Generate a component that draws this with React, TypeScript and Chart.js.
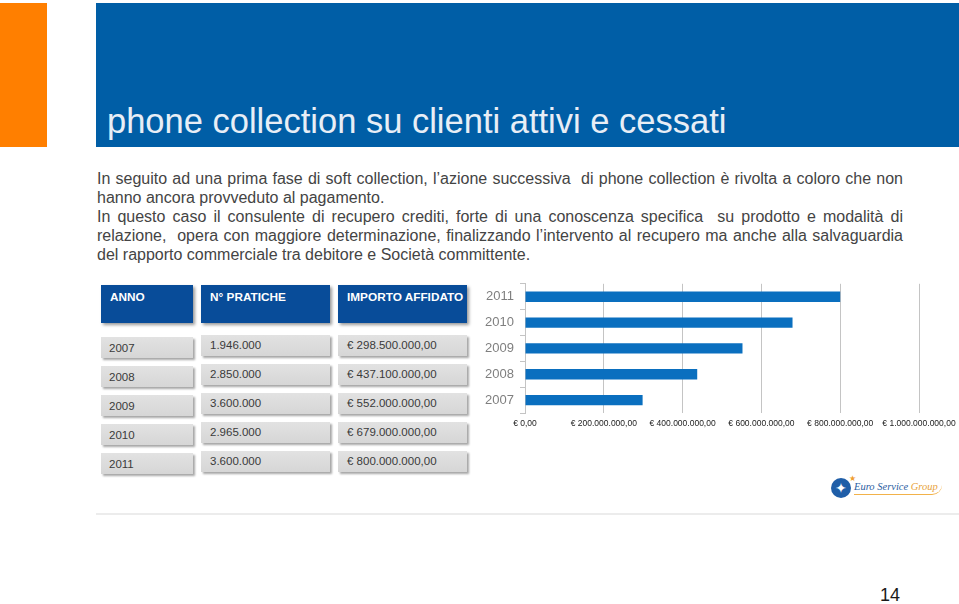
import React, { useEffect, useRef } from 'react';
import { Chart, registerables } from 'chart.js';

Chart.register(...registerables);

const years: string[] = ['2007', '2008', '2009', '2010', '2011'];
const pratiche: string[] = ['1.946.000', '2.850.000', '3.600.000', '2.965.000', '3.600.000'];
const importi: number[] = [298500000, 437100000, 552000000, 679000000, 800000000];
const headers: string[] = ['ANNO', 'N° PRATICHE', 'IMPORTO AFFIDATO'];
const xMin = 0;
const xMax = 1000000000;
const xStep = 200000000;

const title = 'phone collection su clienti attivi e cessati';
const bodyLines: string[] = [
  'In seguito ad una prima fase di soft collection, l’azione successiva  di phone collection è rivolta a coloro che non',
  'hanno ancora provveduto al pagamento.',
  'In questo caso il consulente di recupero crediti, forte di una conoscenza specifica  su prodotto e modalità di',
  'relazione,  opera con maggiore determinazione, finalizzando l’intervento al recupero ma anche alla salvaguardia',
  'del rapporto commerciale tra debitore e Società committente.',
];
const justified: boolean[] = [true, false, true, true, false];

function fmtEuro(v: number): string {
  const intPart = Math.round(v).toString().replace(/\B(?=(\d{3})+(?!\d))/g, '.');
  return '€ ' + intPart + ',00';
}

const FONT = '"Liberation Sans", Arial, sans-serif';

function BarChart() {
  const ref = useRef<HTMLCanvasElement | null>(null);
  useEffect(() => {
    if (!ref.current) return;
    const chart = new Chart(ref.current, {
      type: 'bar',
      data: {
        labels: years,
        datasets: [
          {
            data: importi,
            backgroundColor: '#0a6fbf',
            borderWidth: 0,
            barPercentage: 0.4,
            categoryPercentage: 1,
          },
        ],
      },
      options: {
        indexAxis: 'y',
        animation: false,
        responsive: false,
        devicePixelRatio: 1,
        layout: { padding: { top: 5, right: 40, left: 0, bottom: 0 } },
        plugins: { legend: { display: false }, tooltip: { enabled: false } },
        scales: {
          x: {
            min: xMin,
            max: xMax,
            afterFit: (s: any) => {
              s.height = 20;
              s.paddingRight = 0;
              s.paddingLeft = 0;
            },
            ticks: {
              stepSize: xStep,
              autoSkip: false,
              maxRotation: 0,
              color: '#222222',
              padding: 6,
              font: { family: FONT, size: 8.5 },
              callback: (v: any) => fmtEuro(Number(v)),
            },
            grid: { color: '#c4c4c4', drawTicks: false, lineWidth: 1 },
            border: { display: false },
          },
          y: {
            reverse: true,
            afterFit: (s: any) => {
              s.width = 55;
            },
            ticks: {
              color: '#7f7f7f',
              padding: 6,
              font: { family: FONT, size: 13 },
            },
            grid: {
              drawOnChartArea: false,
              drawTicks: true,
              tickLength: 5,
              color: '#c4c4c4',
              offset: true,
            },
            border: { display: true, color: '#c4c4c4' },
          },
        },
      },
    });
    return () => chart.destroy();
  }, []);
  return (
    <canvas
      ref={ref}
      width={489}
      height={163}
      style={{ position: 'absolute', left: 470, top: 270, width: 489, height: 163 }}
    />
  );
}

const colX = [101, 201, 338];
const colW = [92, 129, 129];
const rowTops = [337, 366, 395, 424, 453];

export default function App() {
  return (
    <div
      style={{
        position: 'absolute',
        left: 0,
        top: 0,
        width: 959,
        height: 604,
        background: '#ffffff',
        overflow: 'hidden',
        fontFamily: FONT,
      }}
    >
      <div style={{ position: 'absolute', left: 0, top: 3, width: 47, height: 144, background: '#ff7f00' }} />
      <div style={{ position: 'absolute', left: 96, top: 3, width: 863, height: 144, background: '#005ea6' }} />
      <div
        style={{
          position: 'absolute',
          left: 107,
          top: 101,
          fontSize: 34.5,
          color: '#e8eef6',
          whiteSpace: 'nowrap',
          lineHeight: '40px',
        }}
      >
        {title}
      </div>

      {bodyLines.map((t, i) => (
        <div
          key={i}
          style={{
            position: 'absolute',
            left: 97,
            top: 169 + i * 19,
            width: 806,
            fontSize: 16,
            lineHeight: '19px',
            color: '#444444',
            whiteSpace: 'pre',
            textAlign: justified[i] ? 'justify' : 'left',
            textAlignLast: justified[i] ? 'justify' : 'left',
          } as any}
        >
          {t}
        </div>
      ))}

      {headers.map((h, c) => (
        <div
          key={'h' + c}
          style={{
            position: 'absolute',
            left: colX[c],
            top: 285,
            width: colW[c],
            height: 38,
            background: '#084c99',
            boxShadow: '2px 2px 3px rgba(0,0,0,0.4)',
            color: '#ffffff',
            fontWeight: 'bold',
            fontSize: 11.8,
            boxSizing: 'border-box',
            padding: '5px 0 0 9px',
            whiteSpace: 'nowrap',
          }}
        >
          {h}
        </div>
      ))}

      {years.map((y, r) => {
        const cells = [y, pratiche[r], fmtEuro(importi[r])];
        return cells.map((txt, c) => (
          <div
            key={'c' + r + '-' + c}
            style={{
              position: 'absolute',
              left: colX[c],
              top: rowTops[r],
              width: colW[c],
              height: 21,
              background: 'linear-gradient(#e2e2e2, #d6d6d6)',
              boxShadow: '2px 2px 2px rgba(0,0,0,0.35)',
              color: '#3a3a3a',
              fontSize: 11.5,
              lineHeight: '21px',
              boxSizing: 'border-box',
              paddingLeft: c === 0 ? 8 : 9,
              paddingTop: c === 0 ? 1 : 0,
              marginTop: c === 0 ? 0 : -2,
              whiteSpace: 'nowrap',
            }}
          >
            {txt}
          </div>
        ));
      })}

      <BarChart />

      <div style={{ position: 'absolute', left: 831, top: 478, width: 20, height: 20, borderRadius: '50%', background: '#1f5ea8', color: '#fff', fontSize: 14, lineHeight: '20px', textAlign: 'center' }}>✦</div>
      <div style={{ position: 'absolute', left: 849, top: 474, color: '#f0a030', fontSize: 8 }}>★</div>
      <div
        style={{
          position: 'absolute',
          left: 854,
          top: 481,
          fontFamily: '"Liberation Serif", serif',
          fontStyle: 'italic',
          fontSize: 10.5,
          whiteSpace: 'nowrap',
          borderBottom: '1.5px solid #f2b24a',
          borderBottomRightRadius: 10,
          paddingBottom: 2,
          paddingRight: 4,
        }}
      >
        <span style={{ color: '#2a5d9f' }}>Euro Service </span>
        <span style={{ color: '#e8a33d' }}>Group</span>
      </div>

      <div style={{ position: 'absolute', left: 96, top: 513, width: 863, height: 2, background: '#ececec' }} />

      <div style={{ position: 'absolute', left: 880, top: 585, fontSize: 18, color: '#1a1a1a' }}>14</div>
    </div>
  );
}
